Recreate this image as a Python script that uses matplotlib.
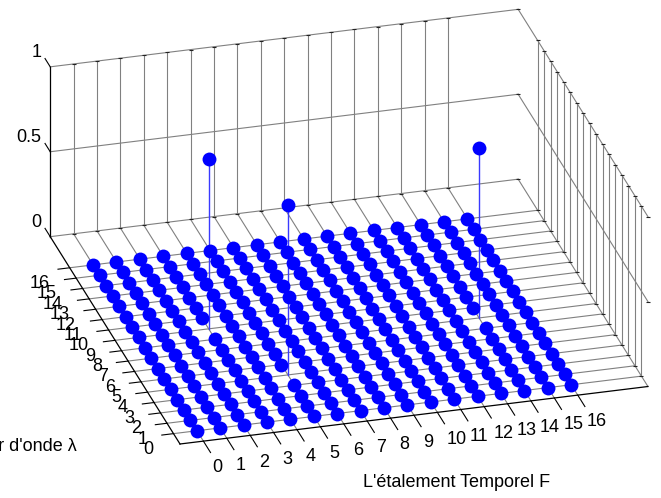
import numpy as np
import matplotlib
matplotlib.use('Agg')
import matplotlib.pyplot as plt
from mpl_toolkits.mplot3d import proj3d

plt.rcParams['font.family'] = ['Liberation Sans', 'DejaVu Sans']

# peaks on the 17x17 grid, everything else sits at zero
etalement = list(range(17))
longueur = list(range(17))
peak_x = [3, 5, 14]
peak_y = [9, 4, 7]
peak_z = [1, 1, 1]
z_ticks = [0, 0.5, 1]
z_tick_labels = ['0', '0.5', '1']

xlim = (-1, 19)
ylim = (-1, 19)
FS = 13

amp = np.zeros((17, 17))
amp[peak_y, peak_x] = peak_z

fig = plt.figure(figsize=(6.61, 4.98), dpi=100)
ax = fig.add_axes([0, 0, 1, 1], projection='3d', computed_zorder=False)
ax.set_proj_type('ortho')
ax.view_init(elev=26.3, azim=-105.5)
ax.set_box_aspect((487, 487, 190))
ax.set_xlim(*xlim)
ax.set_ylim(*ylim)
ax.set_zlim(0, 1)
ax.set_axis_off()

grid = dict(color='#808080', lw=0.8, zorder=1)
edge = dict(color='black', lw=0.9, zorder=2)
tick = dict(color='black', lw=0.8, zorder=2)
nub = dict(color='#222222', ls='none', marker='_', ms=3, mew=0.8, zorder=2)

# floor grid
for v in etalement:
    ax.plot([v, v], ylim, [0, 0], **grid)
    ax.plot([v, v], [ylim[1], ylim[1]], [0, 1], **grid)
for v in longueur:
    ax.plot(xlim, [v, v], [0, 0], **grid)
    ax.plot([xlim[1], xlim[1]], [v, v], [0, 1], **grid)
# back walls
for h in z_ticks:
    ax.plot(xlim, [ylim[1], ylim[1]], [h, h], **grid)
    ax.plot([xlim[1], xlim[1]], ylim, [h, h], **grid)

# small tick marks on the far edges
for h in [0, 1]:
    ax.plot(etalement, [ylim[1]] * 17, [h] * 17, **nub)
    ax.plot([xlim[1]] * 17, longueur, [h] * 17, **nub)
ax.plot([19, 19, 19, 19, 19], [19, 19, 19, -1, -1], [0, 0.5, 1, 1, 0.5], **nub)

# front edges + z axis
ax.plot(xlim, [-1, -1], [0, 0], **edge)
ax.plot([-1, -1], ylim, [0, 0], **edge)
ax.plot([-1, -1], [19, 19], [0, 1], **edge)

for v in etalement:
    ax.plot([v, v], [-1, -2.1], [0, 0], **tick)
for v in longueur:
    ax.plot([-1, -1.5], [v, v], [0, 0], **tick)
for h in z_ticks:
    ax.plot([-1, -1], [19, 19.8], [h, h], **tick)

# stems then dots
for i in range(len(peak_x)):
    ax.plot([peak_x[i], peak_x[i]], [peak_y[i], peak_y[i]], [0, peak_z[i]],
            color='#3a3aff', lw=1.0, zorder=3)
xx, yy = np.meshgrid(etalement, longueur)
ax.plot(xx.ravel(), yy.ravel(), amp.ravel(), ls='none', marker='o', ms=10,
        mfc='#0000ff', mec='#0000ff', mew=0, zorder=4)


def corner(x, y, z):
    xp, yp, _ = proj3d.proj_transform(x, y, z, ax.get_proj())
    return ax.transData.transform((xp, yp))


# fit the box onto the pixels of the reference: front corner (180,444), right corner (648,387)
fig.canvas.draw()
a = corner(-1, -1, 0)
b = corner(19, -1, 0)
size = ax.get_position().width * 661 * np.hypot(468, 57) / np.hypot(*(b - a))
ax.set_position([0, 0, size / 661, size / 498])
fig.canvas.draw()
a = corner(-1, -1, 0)
ax.set_position([(180 - a[0]) / 661, (498 - 444 - a[1]) / 498, size / 661, size / 498])
fig.canvas.draw()


# tick labels go on the figure once the box is in place
def label3d(x, y, z, s, ha):
    px = corner(x, y, z)
    fig.text(px[0] / 661, px[1] / 498, s, ha=ha, va='center', fontsize=FS)


for v in etalement:
    label3d(v - 0.31, -3.5, 0, str(v), 'left')
for v in longueur:
    label3d(-2.18, v - 1.2, 0, str(v), 'right')
for h, lab in zip(z_ticks, z_tick_labels):
    label3d(-1, 20.35, h, lab, 'right')

fig.text(457 / 661, 1 - 482 / 498, "L'étalement Temporel F", ha='center', va='center', fontsize=FS)
fig.text(77 / 661, 1 - 446 / 498, "Longueur d'onde λ", ha='right', va='center', fontsize=FS)

fig.savefig('out.png', dpi=100)
